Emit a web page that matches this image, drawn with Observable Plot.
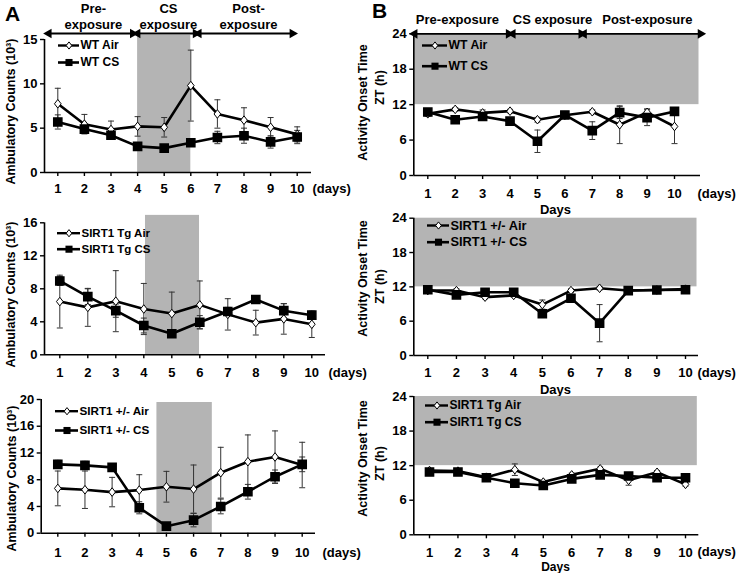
<!DOCTYPE html>
<html><head><meta charset="utf-8">
<script src="https://cdn.jsdelivr.net/npm/d3@7"></script>
<script src="https://cdn.jsdelivr.net/npm/@observablehq/plot@0.6"></script>
<style>
body{margin:0;background:#fff;}
#fig{position:relative;width:736px;height:573px;overflow:hidden;}
#fig svg{position:absolute;overflow:visible;}
</style></head><body><div id="fig"></div>
<script>
const days = [1,2,3,4,5,6,7,8,9,10];
// A: ambulatory counts (10^3)
const wtAirCounts = [7.75,5.45,4.85,5.2,5.1,9.8,6.6,5.9,5.1,4.3];
const wtAirCountsErr = [1.75,1.1,0.95,1.1,1.1,4.0,1.6,1.4,1.1,0.85];
const wtCsCounts = [5.7,4.9,4.2,2.95,2.75,3.35,3.95,4.15,3.45,4.0];
const wtCsCountsErr = [0.8,0.5,0.35,0.25,0.25,0.35,0.7,0.85,0.7,0.75];
const tgAirCounts = [6.45,5.75,6.5,5.55,5.0,6.05,4.9,3.9,4.35,3.7];
const tgAirCountsErr = [3.2,2.3,3.7,3.1,2.6,2.9,1.9,1.5,1.85,1.6];
const tgCsCounts = [8.95,7.05,5.35,3.55,2.55,3.95,5.25,6.7,5.35,4.8];
const tgCsCountsErr = [0.55,0.95,0.8,0.9,0.4,0.8,0.5,0.3,0.85,0.4];
const hetAirCounts = [6.7,6.5,6.15,6.45,6.95,6.6,9.05,10.7,11.4,10.2];
const hetAirCountsErr = [2.6,2.8,2.2,2.3,2.3,3.6,3.8,4.0,3.9,3.4];
const hetCsCounts = [10.3,10.15,9.85,3.8,1.05,1.95,4.0,6.2,8.45,10.3];
const hetCsCountsErr = [0.6,0.6,0.3,0.9,0.5,1.0,1.1,1.1,1.0,1.1];
// B: activity onset time ZT (h)
const wtAirOnset = [10.45,11.2,10.6,10.9,9.45,10.2,10.8,8.6,10.7,8.3];
const wtAirOnsetErr = [0.4,0.3,0.5,0.3,0.4,0.3,0.3,3.2,0.6,2.9];
const wtCsOnset = [10.75,9.45,10.0,9.2,5.8,10.25,7.6,10.65,9.8,10.85];
const wtCsOnsetErr = [0.4,0.4,0.4,0.3,1.9,0.3,1.5,1.0,1.35,0.5];
const hetAirOnset = [11.35,11.35,10.2,10.5,8.9,11.35,11.75,11.35,11.45,11.6];
const hetAirOnsetErr = [0.3,0.3,0.3,0.3,0.8,0.3,0.3,0.3,0.3,0.3];
const hetCsOnset = [11.5,10.6,11.05,11.05,7.3,10.0,5.65,11.35,11.45,11.5];
const hetCsOnsetErr = [0.3,0.3,0.3,0.3,0.4,0.3,3.25,0.3,0.3,0.3];
const tgAirOnset = [11.15,11.05,10.0,11.3,9.15,10.4,11.45,9.45,10.85,8.75];
const tgAirOnsetErr = [0.3,0.3,0.3,1.0,0.3,0.3,0.3,0.85,0.3,0.3];
const tgCsOnset = [10.9,10.9,9.9,8.95,8.55,9.7,10.4,10.2,9.9,9.9];
const tgCsOnsetErr = [0.3,0.3,0.3,0.3,0.3,0.3,0.3,0.3,0.3,0.3];
// exposure phases (days)
const phaseNamesA = ["Pre-\nexposure","CS\nexposure","Post-\nexposure"];
const phaseNamesB = ["Pre-exposure","CS exposure","Post-exposure"];
const phaseStartA = [0.66,4.0,6.3], phaseEndA = [3.82,6.18,9.82], phaseMidA = [2.34,5.16,8.17];
const phaseStartB = [0.52,4.1,6.7], phaseEndB = [3.95,6.6,10.95], phaseMidB = [2.08,5.55,9.01];
const yLabelA = "Ambulatory Counts (10³)";
const yLabelB1 = "Activity Onset Time", yLabelB2 = "ZT (h)";

const FONT = '"Liberation Sans", Arial, Helvetica, sans-serif';
const GRAY = "#b4b4b4";
const diamond = {draw(c, s){const r=Math.sqrt(s/Math.PI), w=r*0.78; c.moveTo(0,-r); c.lineTo(w,0); c.lineTo(0,r); c.lineTo(-w,0); c.closePath();}};
const cap = {draw(c, s){const r=Math.sqrt(s/Math.PI); c.moveTo(-r,0); c.lineTo(r,0);}};

const panels = [
 {left:0, top:0, width:370, height:200, fl:44, fr:311, ft:39, fb:172, d1:57.3, d10:296.7, yMax:15, yTicks:[0,5,10,15],
  air:wtAirCounts, airErr:wtAirCountsErr, cs:wtCsCounts, csErr:wtCsCountsErr, names:["WT Air","WT CS"],
  band:{x1:4, x2:6, y1:0, y2:15.45}, legend:{x1:58,x2:79,tx:80,r1:45,r2:62,fs:12}, xPad:7.3,
  daysAt:[312,188], yLab:[[yLabelA,10,111]], header:"A", letter:["A",12,14]},
 {left:0, top:195, width:370, height:185, fl:44, fr:325, ft:222.3, fb:354.3, d1:59.3, d10:311.3, yMax:16, yTicks:[0,4,8,12,16],
  air:tgAirCounts, airErr:tgAirCountsErr, cs:tgCsCounts, csErr:tgCsCountsErr, names:["SIRT1 Tg Air","SIRT1 Tg CS"],
  band:{x1:4.06, x2:5.99, y1:0, y2:16.9}, legend:{x1:57,x2:80,tx:81,r1:232.7,r2:248.7,fs:11.5}, xPad:8.7,
  daysAt:[328,372], yLab:[[yLabelA,10,294]]},
 {left:0, top:380, width:370, height:193, fl:40.7, fr:315, ft:399, fb:532.7, d1:57.3, d10:301.7, yMax:20, yTicks:[0,4,8,12,16,20],
  air:hetAirCounts, airErr:hetAirCountsErr, cs:hetCsCounts, csErr:hetCsCountsErr, names:["SIRT1 +/- Air","SIRT1 +/- CS"],
  band:{x1:4.65, x2:6.69, y1:0, y2:19.55}, legend:{x1:55,x2:78,tx:79,r1:410.7,r2:430,fs:11.7}, xPad:10.3,
  daysAt:[322,552], yLab:[[yLabelA,11.7,478]]},
 {left:370, top:0, width:366, height:215, fl:413.3, fr:700, ft:33.3, fb:175, d1:427.3, d10:674, yMax:24, yTicks:[0,6,12,18,24],
  air:wtAirOnset, airErr:wtAirOnsetErr, cs:wtCsOnset, csErr:wtCsOnsetErr, names:["WT Air","WT CS"],
  bandFull:true, legend:{x1:422,x2:447,tx:448,r1:45,r2:65.7,fs:12.2}, xPad:9.6,
  daysAt:[697,193], DaysAt:[555,209], yLab:[[yLabelB1,362,102],[yLabelB2,379.5,87]], header:"B", letter:["B",379,11]},
 {left:370, top:195, width:366, height:195, fl:413.3, fr:698, ft:217.7, fb:355, d1:427.3, d10:685, yMax:24, yTicks:[0,6,12,18,24],
  air:hetAirOnset, airErr:hetAirOnsetErr, cs:hetCsOnset, csErr:hetCsOnsetErr, names:["SIRT1 +/- Air","SIRT1 +/- CS"],
  bandFull:true, legend:{x1:427,x2:449,tx:450,r1:225,r2:241.7,fs:12.8}, xPad:8,
  daysAt:[697,372], DaysAt:[555,389], yLab:[[yLabelB1,362,278],[yLabelB2,379.5,286]]},
 {left:370, top:380, width:366, height:193, fl:413.3, fr:698.3, ft:396, fb:534.3, d1:429, d10:685, yMax:24, yTicks:[0,6,12,18,24],
  air:tgAirOnset, airErr:tgAirOnsetErr, cs:tgCsOnset, csErr:tgCsOnsetErr, names:["SIRT1 Tg Air","SIRT1 Tg CS"],
  bandFull:true, legend:{x1:425,x2:448,tx:449,r1:405,r2:421.7,fs:12}, xPad:8.6,
  daysAt:[697,551.5], DaysAt:[555,566.5], daysFs:12, yLab:[[yLabelB1,362,458],[yLabelB2,379.5,463]]}
];

const fig = document.getElementById("fig");
for (const p of panels) {
  const step = (p.d10 - p.d1) / 9;
  const X = px => 1 + (px - p.d1) / step;
  const Y = py => (p.fb - py) / (p.fb - p.ft) * p.yMax;
  const xDom = [X(p.fl), X(p.fr)];
  const rows = (v, e) => days.map((d, i) => ({day: d, v: v[i], lo: v[i] - e[i], hi: v[i] + e[i]}));
  const air = rows(p.air, p.airErr), cs = rows(p.cs, p.csErr);
  const band = p.bandFull ? {x1: xDom[0], x2: X(p.fr - 1.5), y1: 12, y2: 24} : p.band;
  const errMarks = (r) => [
    Plot.ruleX(r, {x: "day", y1: "lo", y2: "hi", stroke: "#333", strokeWidth: 1}),
    Plot.dot(r, {x: "day", y: "hi", symbol: cap, r: 3, fill: "none", stroke: "#333", strokeWidth: 1}),
    Plot.dot(r, {x: "day", y: "lo", symbol: cap, r: 3, fill: "none", stroke: "#333", strokeWidth: 1})
  ];
  const L = p.legend;
  const marks = [
    Plot.rect([band], {x1: "x1", x2: "x2", y1: "y1", y2: "y2", fill: GRAY}),
    ...errMarks(air), ...errMarks(cs),
    Plot.line(air, {x: "day", y: "v", stroke: "black", strokeWidth: 2.6}),
    Plot.line(cs, {x: "day", y: "v", stroke: "black", strokeWidth: 2.6}),
    Plot.dot(air, {x: "day", y: "v", symbol: diamond, r: 4.3, fill: "white", stroke: "black", strokeWidth: 1}),
    Plot.dot(cs, {x: "day", y: "v", symbol: "square", r: 4.6, fill: "black", stroke: "black"}),
    // axes
    Plot.ruleY([0], {x1: xDom[0], x2: xDom[1], stroke: "black", strokeWidth: 1.6}),
    Plot.ruleX([xDom[0]], {y1: 0, y2: p.yMax, stroke: "black", strokeWidth: 1.6}),
    Plot.axisX({ticks: days, tickSize: 4, tickPadding: p.xPad, tickFormat: d => String(d), label: null, strokeWidth: 1.4}),
    Plot.axisY({ticks: p.yTicks, tickSize: 4, tickPadding: 3, tickFormat: d => String(d), label: null, strokeWidth: 1.4}),
    // legend
    Plot.ruleY([Y(L.r1)], {x1: X(L.x1), x2: X(L.x2), stroke: "black", strokeWidth: 2.4}),
    Plot.ruleY([Y(L.r2)], {x1: X(L.x1), x2: X(L.x2), stroke: "black", strokeWidth: 2.6}),
    Plot.dot([0], {x: X((L.x1 + L.x2) / 2), y: Y(L.r1), symbol: diamond, r: 3.6, fill: "white", stroke: "black", strokeWidth: 1}),
    Plot.dot([0], {x: X((L.x1 + L.x2) / 2), y: Y(L.r2), symbol: "square", r: 4, fill: "black"}),
    Plot.text([p.names[0]], {x: X(L.tx), y: Y(L.r1), textAnchor: "start", lineAnchor: "middle", fontSize: L.fs}),
    Plot.text([p.names[1]], {x: X(L.tx), y: Y(L.r2), textAnchor: "start", lineAnchor: "middle", fontSize: L.fs}),
    // (days) label
    Plot.text(["(days)"], {x: X(p.daysAt[0]), y: Y(p.daysAt[1]), textAnchor: "start", lineAnchor: "middle", fontSize: 13}),
    // y labels
    ...p.yLab.map(([t, px, py]) => Plot.text([t], {x: X(px), y: Y(py), rotate: -90, textAnchor: "middle", lineAnchor: "middle", fontSize: 12.5}))
  ];
  if (p.DaysAt) marks.push(Plot.text(["Days"], {x: X(p.DaysAt[0]), y: Y(p.DaysAt[1]), lineAnchor: "middle", fontSize: p.daysFs || 13}));
  if (p.header === "A") {
    const ph = phaseNamesA.map((n, i) => ({n, s: phaseStartA[i], e: phaseEndA[i], m: phaseMidA[i]}));
    const ay = Y(33);
    marks.push(
      Plot.ruleY(ph, {y: ay, x1: "s", x2: "e", stroke: "black", strokeWidth: 1.8}),
      Plot.dot(ph, {x: "s", y: ay, symbol: "triangle", rotate: -90, r: 3.6, fill: "black"}),
      Plot.dot(ph, {x: "e", y: ay, symbol: "triangle", rotate: 90, r: 3.6, fill: "black"}),
      Plot.text(ph, {x: "m", y: Y(15), text: "n", lineAnchor: "middle", lineHeight: 1.28, fontSize: 13})
    );
  }
  if (p.header === "B") {
    const ph = phaseNamesB.map((n, i) => ({n, s: phaseStartB[i], e: phaseEndB[i], m: phaseMidB[i]}));
    const ay = Y(33.3);
    marks.push(
      Plot.ruleY(ph, {y: ay, x1: "s", x2: "e", stroke: "black", strokeWidth: 1.8}),
      Plot.dot(ph, {x: "s", y: ay, symbol: "triangle", rotate: -90, r: 3.6, fill: "black"}),
      Plot.dot(ph, {x: "e", y: ay, symbol: "triangle", rotate: 90, r: 3.6, fill: "black"}),
      Plot.text(ph, {x: "m", y: Y(19), text: "n", lineAnchor: "middle", fontSize: 13})
    );
  }
  if (p.letter) marks.push(Plot.text([p.letter[0]], {x: X(p.letter[1]), y: Y(p.letter[2]), lineAnchor: "middle", fontSize: 21}));
  const svg = Plot.plot({
    width: p.width, height: p.height,
    marginLeft: p.fl - p.left, marginRight: p.left + p.width - p.fr,
    marginTop: p.ft - p.top, marginBottom: p.top + p.height - p.fb,
    x: {domain: xDom}, y: {domain: [0, p.yMax]},
    style: {fontFamily: FONT, fontSize: "13px", fontWeight: "bold", background: "transparent", overflow: "visible", color: "black"},
    marks
  });
  svg.style.left = p.left + "px";
  svg.style.top = p.top + "px";
  fig.appendChild(svg);
}
</script></body></html>
